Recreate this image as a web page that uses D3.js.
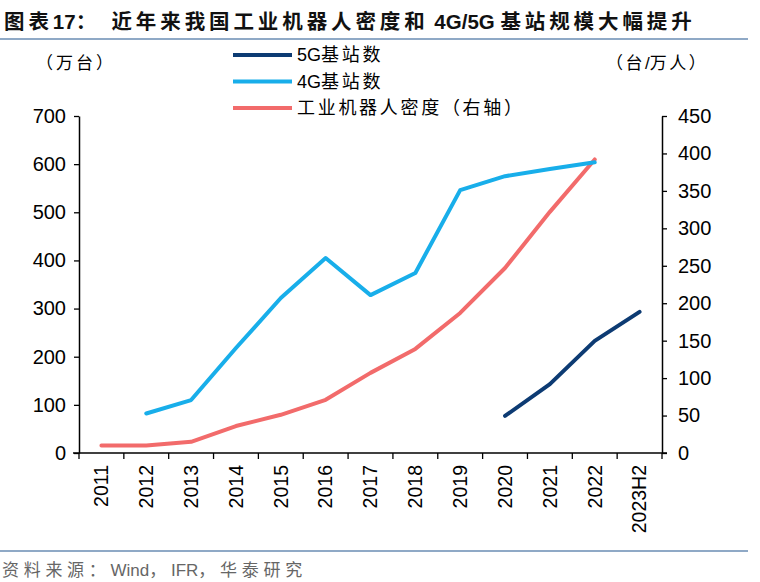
<!DOCTYPE html>
<html><head><meta charset="utf-8">
<script src="https://cdn.jsdelivr.net/npm/d3@7"></script>
<style>
body{margin:0;background:#fff;}
text{font-family:"Liberation Sans",Arial,"Noto Sans CJK SC",sans-serif;white-space:pre;}
</style></head>
<body><svg id="c" width="760" height="582"></svg>
<script>
const categories = ["2011","2012","2013","2014","2015","2016","2017","2018","2019","2020","2021","2022","2023H2"];
const g5 = [null,null,null,null,null,null,null,null,null,77,143,233,293];
const g4 = [null,82,110,218,322,405,328,374,546,575,590,604,null];
const density = [10,10,15,36,51,71,107,139,187,247,322,392,null];
const leftTicks = [0,100,200,300,400,500,600,700];
const rightTicks = [0,50,100,150,200,250,300,350,400,450];
const seriesNames = ["5G基站数","4G基站数","工业机器人密度（右轴）"];
const colors = ["#0D3B73","#18AEEA","#F26B6B"];

const svg = d3.select("#c");
const fam = '"Liberation Sans","Noto Sans CJK SC",sans-serif';
const L = 79, R = 662, T = 116, B = 453;

// text with letter-spacing only on CJK runs
function rich(t, str, sp){
  const re = /([\u3000-\u9fff\uff00-\uffef]+)/;
  str.split(re).filter(s=>s.length).forEach(s=>{
    const ts = t.append("tspan").text(s);
    if(re.test(s)) ts.attr("letter-spacing",sp);
  });
  return t;
}

// title
rich(svg.append("text").attr("x",4).attr("y",29).attr("font-family",fam).attr("font-weight","bold")
  .attr("font-size",20.5).attr("fill","#111"), "图表17：  近年来我国工业机器人密度和 4G/5G 基站规模大幅提升", 3.9);
svg.append("line").attr("x1",0).attr("x2",748).attr("y1",39).attr("y2",39).attr("stroke","#8FA9C6").attr("stroke-width",2);
svg.append("line").attr("x1",0).attr("x2",748).attr("y1",551).attr("y2",551).attr("stroke","#8FA9C6").attr("stroke-width",2);
rich(svg.append("text").attr("x",2).attr("y",576).attr("font-family",fam).attr("font-size",17).attr("fill","#666"),
  "资料来源：Wind，IFR，华泰研究", 4.7);

const x = d3.scaleBand().domain(categories).range([L,R]);
const yL = d3.scaleLinear().domain([0,700]).range([B,T]);
const yR = d3.scaleLinear().domain([0,450]).range([B,T]);

// axes
const axL = svg.append("g").attr("transform",`translate(${L},0)`)
  .call(d3.axisLeft(yL).tickValues(leftTicks).tickSize(5).tickPadding(8).tickSizeOuter(0));
const axR = svg.append("g").attr("transform",`translate(${R},0)`)
  .call(d3.axisRight(yR).tickValues(rightTicks).tickSize(5).tickPadding(11).tickSizeOuter(0));
const axX = svg.append("g").attr("transform",`translate(0,${B})`)
  .call(d3.axisBottom(x).tickSize(0).tickPadding(0));
axX.selectAll(".tick text").attr("transform","rotate(-90)").attr("text-anchor","end")
  .attr("x",-12).attr("y",0).attr("dy","0.35em");
// boundary ticks
const bounds = categories.map(c=>x(c)).concat([R]);
axX.selectAll(".bt").data(bounds).enter().append("line").attr("class","bt")
  .attr("x1",d=>d).attr("x2",d=>d).attr("y1",0).attr("y2",6).attr("stroke","#000").attr("stroke-width",1.3);
axX.select(".domain").attr("d",`M${L-6},0H${R+5}`);
[axL,axR,axX].forEach(a=>{
  a.selectAll(".domain").attr("stroke","#000").attr("stroke-width",1.5);
  a.selectAll(".tick line").attr("stroke","#000").attr("stroke-width",1.3);
  a.selectAll(".tick text").attr("font-size",20).attr("fill","#000");
});
axX.selectAll(".tick text").attr("font-size",19.5);

// lines
const mk = (y)=>d3.line().defined(d=>d[1]!=null).x(d=>x(d[0])+x.bandwidth()/2).y(d=>y(d[1]));
const data = [[g5,yL],[g4,yL],[density,yR]];
[2,1,0].forEach(i=>{
  const [vals,y] = data[i];
  svg.append("path").datum(categories.map((c,j)=>[c,vals[j]]))
    .attr("d",mk(y)).attr("fill","none").attr("stroke",colors[i]).attr("stroke-width",4)
    .attr("stroke-linecap","round").attr("stroke-linejoin","round");
});

// unit labels
rich(svg.append("text").attr("x",36).attr("y",69).attr("font-family",fam).attr("font-size",17).attr("fill","#000"), "（万台）", 3);
rich(svg.append("text").attr("x",606).attr("y",69).attr("font-family",fam).attr("font-size",17).attr("fill","#000"), "（台/万人）", 2.5);

// legend
const lg = svg.append("g");
seriesNames.forEach((n,i)=>{
  const yy = 55 + i*26.5;
  lg.append("line").attr("x1",233).attr("x2",292).attr("y1",yy).attr("y2",yy).attr("stroke",colors[i]).attr("stroke-width",4);
  rich(lg.append("text").attr("x",297).attr("y",yy).attr("dy","0.36em").attr("font-family",fam).attr("font-size",18).attr("fill","#000"), n, 2.7);
});
</script></body></html>
